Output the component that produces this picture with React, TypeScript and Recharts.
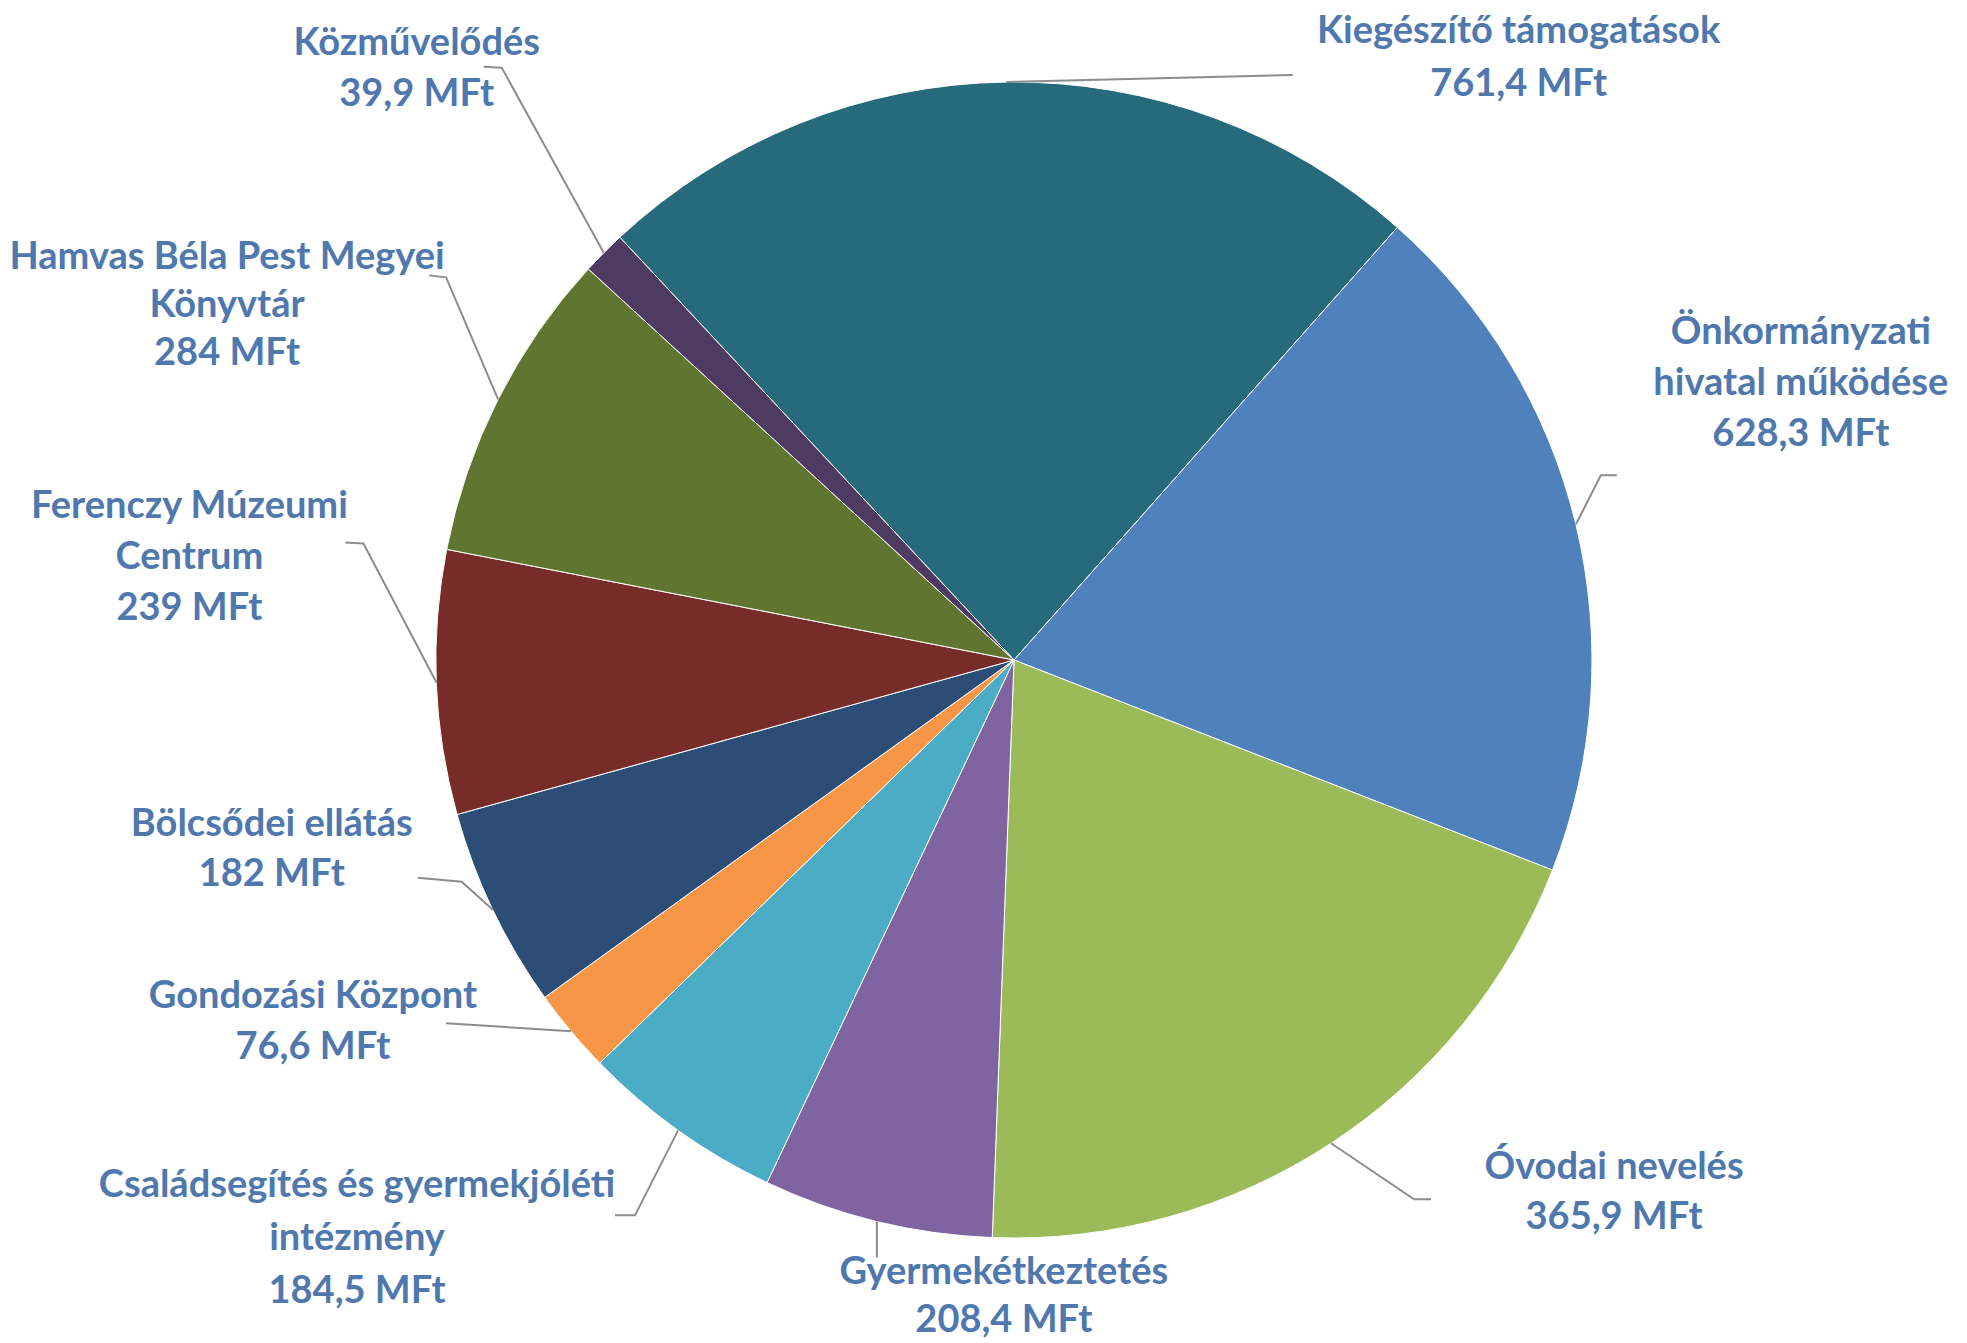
import React from 'react';
import { PieChart, Pie, Cell } from 'recharts';

// Categories (clockwise from the top-left boundary of the largest slice)
const categories = [
  'Kiegészítő támogatások',
  'Önkormányzati hivatal működése',
  'Óvodai nevelés',
  'Gyermekétkeztetés',
  'Családsegítés és gyermekjóléti intézmény',
  'Gondozási Központ',
  'Bölcsődei ellátás',
  'Ferenczy Múzeumi Centrum',
  'Hamvas Béla Pest Megyei Könyvtár',
  'Közművelődés',
];

// Slice sizes as drawn in the picture (MFt)
const sliceValues = [761.4, 628.3, 638, 208.4, 184.5, 76.6, 182, 239, 284, 39.9];

// Value texts printed in the labels
const valueLabels = ['761,4', '628,3', '365,9', '208,4', '184,5', '76,6', '182', '239', '284', '39,9'];

// Category names split into label lines
const nameLines = [
  ['Kiegészítő támogatások'],
  ['Önkormányzati', 'hivatal működése'],
  ['Óvodai nevelés'],
  ['Gyermekétkeztetés'],
  ['Családsegítés és gyermekjóléti', 'intézmény'],
  ['Gondozási Központ'],
  ['Bölcsődei ellátás'],
  ['Ferenczy Múzeumi', 'Centrum'],
  ['Hamvas Béla Pest Megyei', 'Könyvtár'],
  ['Közművelődés'],
];

const COLORS = [
  '#276A7B', '#4F81BD', '#9BBB59', '#8064A2', '#4BACC6',
  '#F79646', '#2C4D75', '#772C2A', '#5F7530', '#4D3B62',
];

// Label layout relative to the slice's outer-edge midpoint:
// leader elbow, leader end, text block (center x, first line center y), line step
const LAYOUT = [
  { elbow: [286, -7], end: [286, -7], text: [512, -53], step: 53 },
  { elbow: [25, -49], end: [41, -49], text: [225, -194], step: 51 },
  { elbow: [83, 56], end: [100, 56], text: [283, 22], step: 50 },
  { elbow: [0, 36], end: [0, 36], text: [127, 49], step: 48 },
  { elbow: [-43, 85], end: [-63, 85], text: [-321, 53], step: 53 },
  { elbow: [-125, -8], end: [-125, -8], text: [-258, -37], step: 51 },
  { elbow: [-31, -28], end: [-75, -32], text: [-221, -88], step: 50 },
  { elbow: [-73, -139], end: [-91, -140], text: [-247, -178], step: 51 },
  { elbow: [-52, -122], end: [-69, -124], text: [-271, -144], step: 48 },
  { elbow: [-102, -185], end: [-120, -186], text: [-187, -212], step: 51 },
];

const FONT_SIZE = 38;
const TEXT_COLOR = '#4F78AE';

const data = categories.map((name, i) => ({ name, value: sliceValues[i] }));

const renderLabel = (props: any) => {
  const { cx, cy, midAngle, outerRadius, index } = props;
  const rad = Math.PI / 180;
  const ex = cx + outerRadius * Math.cos(-midAngle * rad);
  const ey = cy + outerRadius * Math.sin(-midAngle * rad);
  const lay = LAYOUT[index];
  const lines = [...nameLines[index], `${valueLabels[index]} MFt`];
  const tx = ex + lay.text[0];
  const ty = ey + lay.text[1];
  const pts = `${ex},${ey} ${ex + lay.elbow[0]},${ey + lay.elbow[1]} ${ex + lay.end[0]},${ey + lay.end[1]}`;
  return (
    <g key={`lbl-${index}`}>
      <polyline points={pts} fill="none" stroke="#8C8C8C" strokeWidth={2} />
      <text
        textAnchor="middle"
        fill={TEXT_COLOR}
        fontFamily="Lato, 'Noto Sans', sans-serif"
        fontWeight={700}
        fontSize={FONT_SIZE}
      >
        {lines.map((ln, k) => (
          <tspan key={k} x={tx} y={ty + k * lay.step + FONT_SIZE * 0.36}>
            {ln}
          </tspan>
        ))}
      </text>
    </g>
  );
};

export default function App() {
  return (
    <div style={{ position: 'absolute', left: 0, top: 0, width: 1967, height: 1343, background: '#ffffff' }}>
      <PieChart width={1967} height={1343} margin={{ top: 0, right: 0, bottom: 0, left: 0 }}>
        <Pie
          data={data}
          dataKey="value"
          nameKey="name"
          cx={1014}
          cy={660}
          innerRadius={0}
          outerRadius={578}
          startAngle={133}
          endAngle={-227}
          stroke="#ffffff"
          strokeWidth={1}
          label={renderLabel}
          labelLine={false}
          isAnimationActive={false}
        >
          {data.map((d, i) => (
            <Cell key={d.name} fill={COLORS[i]} />
          ))}
        </Pie>
      </PieChart>
    </div>
  );
}
